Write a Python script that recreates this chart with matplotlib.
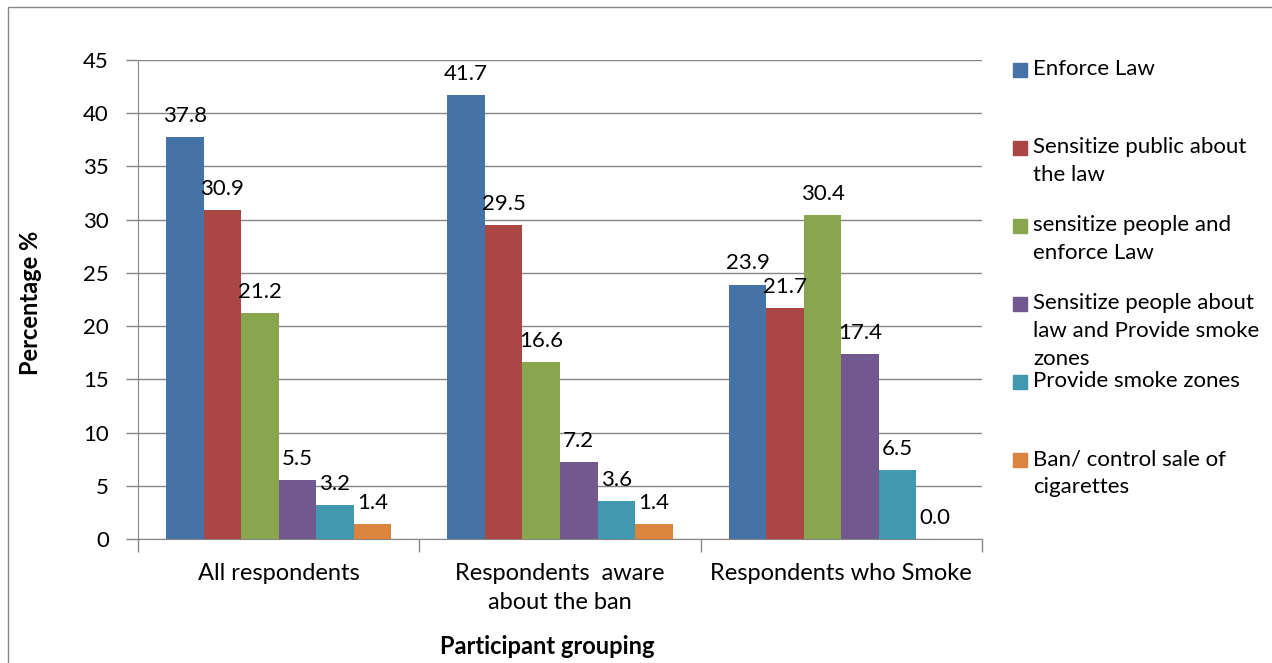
import numpy as np
import matplotlib.pyplot as plt
from matplotlib.patches import Rectangle

plt.rcParams['font.family'] = ['Lato', 'DejaVu Sans']

groups = ["All respondents", "Respondents  aware\nabout the ban", "Respondents who Smoke"]
series = ["Enforce Law",
          "Sensitize public about\nthe law",
          "sensitize people and\nenforce Law",
          "Sensitize people about\nlaw and Provide smoke\nzones",
          "Provide smoke zones",
          "Ban/ control sale of\ncigarettes"]
enforce_law = [37.8, 41.7, 23.9]
sensitize_public = [30.9, 29.5, 21.7]
sensitize_enforce = [21.2, 16.6, 30.4]
sensitize_zones = [5.5, 7.2, 17.4]
smoke_zones = [3.2, 3.6, 6.5]
ban_sale = [1.4, 1.4, 0.0]
values = [enforce_law, sensitize_public, sensitize_enforce, sensitize_zones, smoke_zones, ban_sale]
colors = ['#4572A7', '#AA4643', '#89A54E', '#71588F', '#4198AF', '#DB843D']

FS = 16
W, H = 1272, 663
fig = plt.figure(figsize=(W / 100, H / 100), dpi=100)
ax = fig.add_axes([138 / W, 1 - 539 / H, (982 - 138) / W, (539 - 60) / H])

n = len(series)
width = 1 / (n + 1.5)
x = np.arange(len(groups))
for i, (vals, c) in enumerate(zip(values, colors)):
    pos = x - 0.5 + 0.75 * width + (i + 0.5) * width
    ax.bar(pos, vals, width, color=c, zorder=3)
    for px, v in zip(pos, vals):
        ax.annotate('%.1f' % v, (px, v), xytext=(0, 8), textcoords='offset points',
                    ha='center', va='bottom', fontsize=FS, zorder=4)

ax.set_xlim(-0.5, len(groups) - 0.5)
ax.set_ylim(0, 45)
ax.set_yticks(np.arange(0, 46, 5))
ax.grid(axis='y', color='#868686', linewidth=1, zorder=0)
ax.set_xticks(np.arange(len(groups) + 1) - 0.5, minor=False)
ax.set_xticklabels([])
ax.set_xticks(x, minor=True)
ax.set_xticklabels(groups, minor=True, fontsize=17, linespacing=1.5)
ax.tick_params(axis='x', which='minor', length=0, pad=17)
ax.tick_params(axis='x', which='major', length=9, color='#868686', width=1)
ax.tick_params(axis='y', length=9, color='#868686', width=1, labelsize=FS, pad=12)
for s in ['top', 'right']:
    ax.spines[s].set_visible(False)
for s in ['left', 'bottom']:
    ax.spines[s].set_color('#868686')

ax.set_ylabel('Percentage %', fontsize=17, fontweight='bold')
ax.yaxis.set_label_coords((42 - 138) / 844, 0.493)
fig.text(547 / W, 1 - 646 / H, 'Participant grouping', fontsize=17, fontweight='bold',
         ha='center', va='center')

# legend drawn by hand so the entries keep Excel's even spacing
for i, (name, c) in enumerate(zip(series, colors)):
    yc = 1 - (70 + 78 * i) / H
    fig.patches.append(Rectangle((1013 / W, yc - 7 / H), 14 / W, 14 / H,
                                 transform=fig.transFigure, color=c))
    fig.text(1033 / W, yc + 11 / H, name, fontsize=FS, va='top', ha='left', linespacing=1.5)

fig.patches.append(Rectangle((8 / W, -0.1), 1.2, 1 - 7 / H + 0.1, transform=fig.transFigure,
                             fill=False, edgecolor='#868686', linewidth=1))

fig.savefig('out.png', dpi=100)
